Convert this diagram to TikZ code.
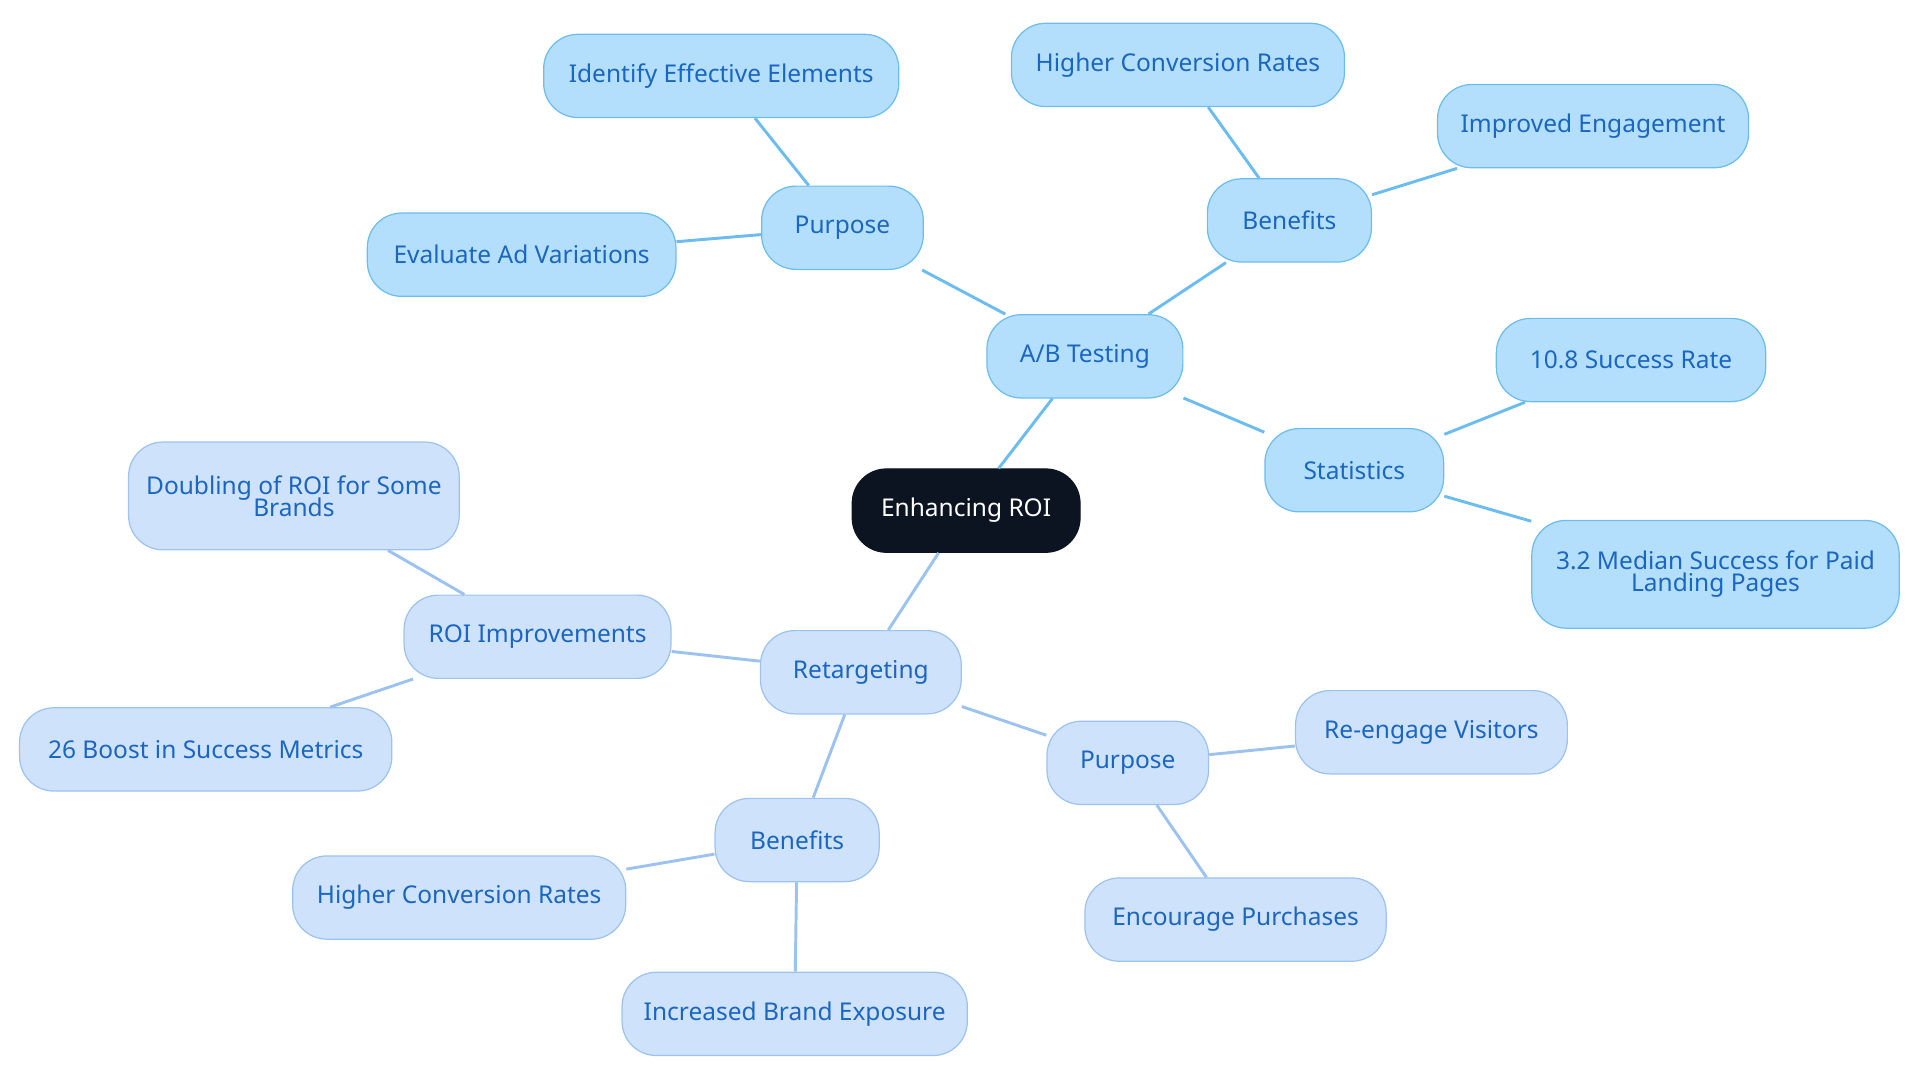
\documentclass[tikz,border=0pt]{standalone}
\usepackage{fontspec}
\setmainfont{Noto Sans}
\definecolor{abfill}{HTML}{B3DFFC}
\definecolor{abline}{HTML}{6CBCF0}
\definecolor{rtfill}{HTML}{CFE2FB}
\definecolor{rtline}{HTML}{9CC3F0}
\definecolor{txtblue}{HTML}{1A66C0}
\definecolor{rootfill}{HTML}{0B1420}
\tikzset{
  box/.style={rounded corners=14pt, minimum height=34pt, align=center,
    font=\fontsize{10}{11}\selectfont, text=txtblue, line width=0.5pt},
  abbox/.style={box, fill=abfill, draw=abline},
  rtbox/.style={box, fill=rtfill, draw=rtline},
  rootbox/.style={box, fill=rootfill, draw=rootfill, text=white},
  abedge/.style={abline, line width=1.2pt},
  rtedge/.style={rtline, line width=1.2pt}
}
\begin{document}
\begin{tikzpicture}[x=0.5pt,y=-0.5pt]
\useasboundingbox (0,0) rectangle (1568,884);
% centre
\node[rootbox, minimum width=93pt] (root) at (789,417) {Enhancing ROI};
% A/B testing branch
\node[abbox, minimum width=80pt] (ab) at (886,291) {A/B Testing};
\node[abbox, minimum width=66pt] (abpur) at (688,186) {Purpose};
\node[abbox, minimum width=145pt] (abident) at (589,62) {Identify Effective Elements};
\node[abbox, minimum width=126pt] (abeval) at (426,208) {Evaluate Ad Variations};
\node[abbox, minimum width=67pt] (abben) at (1053,180) {Benefits};
\node[abbox, minimum width=136pt] (abconv) at (962,53) {Higher Conversion Rates};
\node[abbox, minimum width=127pt] (abeng) at (1301,103) {Improved Engagement};
\node[abbox, minimum width=73pt] (abstat) at (1106,384) {Statistics};
\node[abbox, minimum width=110pt] (absucc) at (1332,294) {10.8 Success Rate};
\node[abbox, minimum width=150pt, minimum height=44pt] (abmed) at (1401,469) {3.2 Median Success for Paid\\[-2pt]Landing Pages};
% retargeting branch
\node[rtbox, minimum width=82pt] (rt) at (703,549) {Retargeting};
\node[rtbox, minimum width=109pt] (rtroi) at (439,520) {ROI Improvements};
\node[rtbox, minimum width=135pt, minimum height=44pt] (rtdbl) at (240,405) {Doubling of ROI for Some\\[-2pt]Brands};
\node[rtbox, minimum width=152pt] (rtboost) at (168,612) {26 Boost in Success Metrics};
\node[rtbox, minimum width=66pt] (rtpur) at (921,623) {Purpose};
\node[rtbox, minimum width=111pt] (rtvis) at (1169,598) {Re-engage Visitors};
\node[rtbox, minimum width=123pt] (rtbuy) at (1009,751) {Encourage Purchases};
\node[rtbox, minimum width=67pt] (rtben) at (651,686) {Benefits};
\node[rtbox, minimum width=136pt] (rtconv) at (375,733) {Higher Conversion Rates};
\node[rtbox, minimum width=141pt] (rtexp) at (649,828) {Increased Brand Exposure};
% connectors
\draw[abedge] (root) -- (ab);
\draw[abedge] (ab) -- (abpur);
\draw[abedge] (abpur) -- (abident);
\draw[abedge] (abpur) -- (abeval);
\draw[abedge] (ab) -- (abben);
\draw[abedge] (abben) -- (abconv);
\draw[abedge] (abben) -- (abeng);
\draw[abedge] (ab) -- (abstat);
\draw[abedge] (abstat) -- (absucc);
\draw[abedge] (abstat) -- (abmed);
\draw[rtedge] (root) -- (rt);
\draw[rtedge] (rt) -- (rtroi);
\draw[rtedge] (rtroi) -- (rtdbl);
\draw[rtedge] (rtroi) -- (rtboost);
\draw[rtedge] (rt) -- (rtpur);
\draw[rtedge] (rtpur) -- (rtvis);
\draw[rtedge] (rtpur) -- (rtbuy);
\draw[rtedge] (rt) -- (rtben);
\draw[rtedge] (rtben) -- (rtconv);
\draw[rtedge] (rtben) -- (rtexp);
\end{tikzpicture}
\end{document}
